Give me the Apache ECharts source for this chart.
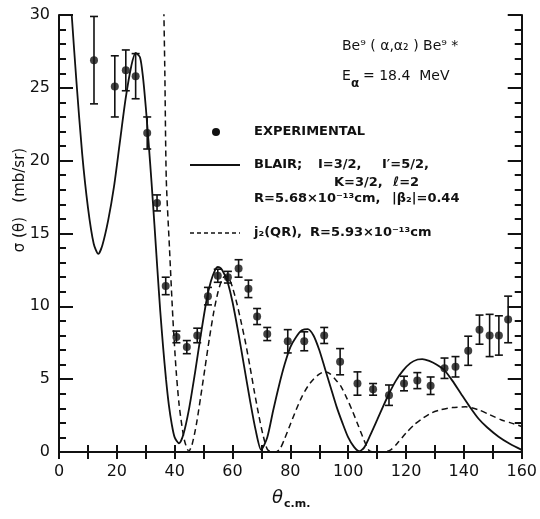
<!DOCTYPE html>
<html><head><meta charset="utf-8">
<script src="https://cdn.jsdelivr.net/npm/echarts@6/dist/echarts.min.js"></script>
<style>html,body{margin:0;padding:0;background:#fff}#c{width:540px;height:519px}</style>
</head><body><div id="c"></div>
<script>
// Experimental points
var expX = [12.1, 19.3, 23.1, 26.5, 30.5, 33.9, 36.9, 40.6, 44.2, 47.8, 51.5, 54.9, 58.4, 62.1, 65.5, 68.5, 72.0, 79.1, 84.8, 91.7, 97.2, 103.2, 108.6, 114.1, 119.3, 123.9, 128.5, 133.3, 137.1, 141.5, 145.4, 148.9, 152.1, 155.3];
var expY = [26.9, 25.1, 26.2, 25.8, 21.9, 17.1, 11.4, 7.9, 7.2, 8.0, 10.7, 12.1, 12.0, 12.6, 11.2, 9.3, 8.1, 7.6, 7.6, 8.0, 6.2, 4.7, 4.3, 3.9, 4.7, 4.9, 4.55, 5.75, 5.85, 6.95, 8.4, 8.0, 8.0, 9.1];
var expErr = [3.0, 2.1, 1.4, 1.55, 1.1, 0.55, 0.6, 0.4, 0.45, 0.5, 0.6, 0.45, 0.4, 0.6, 0.6, 0.55, 0.45, 0.8, 0.65, 0.55, 0.9, 0.8, 0.4, 0.7, 0.5, 0.55, 0.6, 0.7, 0.7, 1.0, 1.0, 1.45, 1.35, 1.6];

// BLAIR curve (solid)
var blairX = [3.6, 4.4, 6, 8, 10, 12, 13.6, 15, 17, 19, 21, 23, 25, 26.5, 28, 29, 30, 31, 32, 33, 34, 35, 36, 37, 38, 39, 40, 41.5, 43, 45, 47, 49, 51, 52.5, 54, 54.9, 56, 57.2, 58.4, 60, 62, 64, 66, 68, 69.9, 72, 74, 76, 78, 80, 82, 84, 86, 88, 90, 92, 94, 96, 98, 100, 102, 103.8, 105.5, 107.5, 110, 112, 114.1, 116.5, 119, 121.5, 124, 125.6, 128, 130.5, 133.3, 136, 139, 141.7, 145, 148, 152, 156, 160];
var blairY = [32.5, 30, 25.5, 20.5, 16.8, 14.3, 13.6, 14.2, 15.9, 18.2, 21.2, 24.2, 26.5, 27.4, 27.1, 25.8, 23.7, 21.2, 18.5, 15.6, 12.6, 9.7, 7.2, 5.0, 3.2, 1.9, 1.0, 0.6, 1.2, 3.0, 5.4, 8.0, 10.4, 11.7, 12.5, 12.7, 12.6, 12.2, 11.6, 10.3, 8.2, 5.9, 3.6, 1.5, 0.15, 1.0, 2.8, 4.5, 6.0, 7.2, 7.9, 8.35, 8.44, 8.0, 7.0, 5.7, 4.4, 3.1, 2.0, 1.0, 0.35, 0.05, 0.3, 1.1, 2.2, 3.1, 4.0, 4.9, 5.6, 6.1, 6.35, 6.38, 6.25, 6.0, 5.6, 4.9, 4.0, 3.2, 2.3, 1.7, 1.05, 0.55, 0.15];

// j2(QR) curve (dashed)
var qrX = [36.2, 36.6, 37.1, 38.2, 39.4, 40.5, 41.5, 42.5, 43.5, 44.9, 46, 47.5, 49, 50.5, 52, 53.5, 55, 56.3, 57.5, 58.8, 60, 61.5, 63, 64.5, 66, 67.5, 69, 70.5, 72, 73.5, 75, 76.5, 78, 80, 82, 84, 86, 88, 90, 91.7, 93.5, 95.5, 97.5, 99.5, 101.5, 103.5, 105.5, 107.2, 109, 112, 114.7, 117, 120, 123, 126, 129, 132, 136, 140.6, 145, 149, 153, 157, 160];
var qrY = [31, 26, 18.7, 14, 9.1, 5.6, 3.3, 1.8, 0.7, 0.05, 0.5, 1.9, 3.8, 5.8, 7.8, 9.6, 11.0, 11.8, 12.1, 11.9, 11.3, 10.2, 8.9, 7.5, 5.9, 4.2, 2.6, 1.2, 0.2, 0.0, 0.0, 0.25, 0.9, 1.9, 2.9, 3.8, 4.5, 5.0, 5.35, 5.5, 5.4, 5.0, 4.5, 3.7, 2.8, 1.8, 0.8, 0.1, 0.0, 0.0, 0.15, 0.6, 1.3, 1.9, 2.35, 2.7, 2.9, 3.05, 3.1, 2.9, 2.55, 2.2, 1.95, 1.75];

var xTicks = [0, 20, 40, 60, 80, 100, 120, 140, 160];
var yTicks = [0, 5, 10, 15, 20, 25, 30];

function pairs(a, b) { return a.map(function (v, i) { return [v, b[i]]; }); }
var expData = expX.map(function (v, i) { return [v, expY[i], expErr[i]]; });

var INK = '#111';
var XMIN = xTicks[0], XMAX = xTicks[xTicks.length - 1];
var YMIN = yTicks[0], YMAX = yTicks[yTicks.length - 1];
var chart = echarts.init(document.getElementById('c'), null, { renderer: 'canvas' });
var tickFont = { fontFamily: 'DejaVu Sans', fontSize: 16, color: INK };
var LF = 'bold 13px "DejaVu Sans"';

function tickAxis(pos, interval, len, showLine) {
  var vert = (pos === 'left' || pos === 'right');
  return {
    type: 'value', position: pos, min: vert ? YMIN : XMIN, max: vert ? YMAX : XMAX, interval: interval,
    axisLine: { show: showLine, lineStyle: { color: INK, width: 2 } },
    axisTick: { show: true, inside: true, length: len, lineStyle: { color: INK, width: 2 } },
    axisLabel: { show: false }, splitLine: { show: false }
  };
}

var xMain = tickAxis('bottom', 10, 7, true);
xMain.axisLabel = Object.assign({
  show: true, margin: 12,
  formatter: function (v) { return xTicks.indexOf(v) >= 0 ? String(v) : ''; }
}, tickFont);

var yMain = tickAxis('left', 5, 14, true);
yMain.axisLabel = Object.assign({ show: true, margin: 9 }, tickFont);

chart.setOption({
  backgroundColor: '#fff',
  animation: false,
  grid: { left: 59, right: 17, top: 15, bottom: 67 },
  xAxis: [xMain, tickAxis('top', 10, 7, true)],
  yAxis: [yMain, tickAxis('left', 1, 7, false), tickAxis('right', 5, 14, true), tickAxis('right', 1, 7, false)],
  series: [{
    name: 'BLAIR', type: 'line', data: pairs(blairX, blairY), smooth: 0.25,
    showSymbol: false, clip: true,
    lineStyle: { color: INK, width: 1.8 }
  }, {
    name: 'QR', type: 'line', data: pairs(qrX, qrY), smooth: 0.25,
    showSymbol: false, clip: true,
    lineStyle: { color: INK, width: 1.5, type: [6, 4] }
  }, {
    name: 'errors', type: 'custom', data: expData, clip: true,
    renderItem: function (params, api) {
      var x = api.value(0), y = api.value(1), e = api.value(2);
      var top = api.coord([x, y + e]);
      var bot = api.coord([x, y - e]);
      var w = 4;
      var st = { stroke: INK, lineWidth: 1.6 };
      return {
        type: 'group', children: [
          { type: 'line', shape: { x1: top[0], y1: top[1], x2: bot[0], y2: bot[1] }, style: st },
          { type: 'line', shape: { x1: top[0] - w, y1: top[1], x2: top[0] + w, y2: top[1] }, style: st },
          { type: 'line', shape: { x1: bot[0] - w, y1: bot[1], x2: bot[0] + w, y2: bot[1] }, style: st }
        ]
      };
    },
    encode: { x: 0, y: 1 }, z: 3
  }, {
    name: 'EXPERIMENTAL', type: 'scatter', data: pairs(expX, expY),
    symbol: 'circle', symbolSize: 8, itemStyle: { color: INK }, z: 4
  }],
  graphic: [
    { type: 'text', left: 342, top: 39, style: { text: 'Be⁹ ( α,α₂ ) Be⁹ *', font: '14px "DejaVu Sans"', fill: INK } },
    { type: 'text', left: 342, top: 69, style: { text: 'E', font: '14px "DejaVu Sans"', fill: INK } },
    { type: 'text', left: 351, top: 78, style: { text: 'α', font: 'bold 12px "DejaVu Sans"', fill: INK } },
    { type: 'text', left: 363, top: 69, style: { text: '= 18.4  MeV', font: '14px "DejaVu Sans"', fill: INK } },
    { type: 'circle', shape: { cx: 216, cy: 132, r: 4 }, style: { fill: INK } },
    { type: 'text', left: 254, top: 125, style: { text: 'EXPERIMENTAL', font: LF, fill: INK } },
    { type: 'line', shape: { x1: 190, y1: 165, x2: 240, y2: 165 }, style: { stroke: INK, lineWidth: 1.8 } },
    { type: 'text', left: 254, top: 158, style: { text: 'BLAIR;', font: LF, fill: INK } },
    { type: 'text', left: 318, top: 158, style: { text: 'I=3/2,', font: LF, fill: INK } },
    { type: 'text', left: 382, top: 158, style: { text: 'I′=5/2,', font: LF, fill: INK } },
    { type: 'text', left: 334, top: 176, style: { text: 'K=3/2,', font: LF, fill: INK } },
    { type: 'text', left: 393, top: 176, style: { text: 'ℓ=2', font: LF, fill: INK } },
    { type: 'text', left: 254, top: 192, style: { text: 'R=5.68×10⁻¹³cm,', font: LF, fill: INK } },
    { type: 'text', left: 392, top: 192, style: { text: '|β₂|=0.44', font: LF, fill: INK } },
    { type: 'line', shape: { x1: 190, y1: 233, x2: 240, y2: 233 }, style: { stroke: INK, lineWidth: 1.5, lineDash: [4, 3] } },
    { type: 'text', left: 254, top: 226, style: { text: 'j₂(QR),', font: LF, fill: INK } },
    { type: 'text', left: 310, top: 226, style: { text: 'R=5.93×10⁻¹³cm', font: LF, fill: INK } },
    { type: 'text', x: 20, y: 200, rotation: Math.PI / 2,
      style: { text: 'σ (θ)   (mb/sr)', font: '15px "DejaVu Sans"', fill: INK, align: 'center', verticalAlign: 'middle' } },
    { type: 'text', left: 272, top: 489, style: { text: 'θ', font: 'italic 18px "DejaVu Sans"', fill: INK } },
    { type: 'text', left: 284, top: 499, style: { text: 'c.m.', font: 'bold 11px "DejaVu Sans"', fill: INK } }
  ]
});
</script></body></html>
